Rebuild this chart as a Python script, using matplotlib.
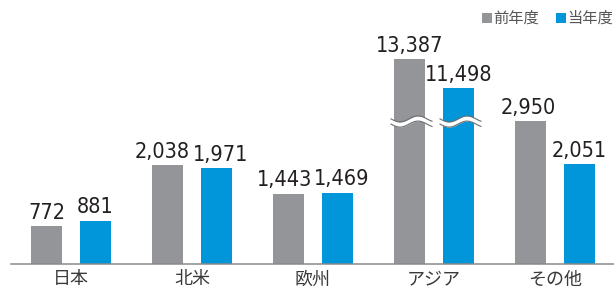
import numpy as np
import matplotlib.pyplot as plt
from matplotlib.patches import Rectangle

plt.rcParams['font.family'] = ['Noto Sans CJK JP', 'DejaVu Sans']

# data
categories = ['日本', '北米', '欧州', 'アジア', 'その他']
prev_year = [772, 2038, 1443, 13387, 2950]
this_year = [881, 1971, 1469, 11498, 2051]
# アジア bars are drawn truncated (broken axis)
asia_drawn = [4228, 3627]
break_level = 2940

gray = '#939598'
blue = '#0096d9'
W, H = 614, 286

# small sideways nudges (px) for crowded value labels
nudge_prev = [0, -5, -4, 0, -2]
nudge_this = [0, 4.5, 4.5, 0, 0]

fig = plt.figure(figsize=(W / 100, H / 100), dpi=100)
base_px = 263.5
ax = fig.add_axes([11 / W, (H - base_px) / H, 1 - 11 / W, base_px / H])

x = np.arange(len(categories))
bw = 31 / 121
off = 24.5 / 121

h_prev = list(prev_year)
h_this = list(this_year)
ai = categories.index('アジア')
h_prev[ai], h_this[ai] = asia_drawn

ax.bar(x - off, h_prev, bw, color=gray, zorder=2)
ax.bar(x + off, h_this, bw, color=blue, zorder=2)

ax.set_xlim((11 - 71) / 121, (614 - 71) / 121)
ax.set_ylim(0, base_px / 0.0483)

# value labels
for xs, hs, vals, nd in [(x - off, h_prev, prev_year, nudge_prev),
                         (x + off, h_this, this_year, nudge_this)]:
    for xi, hi, v, n in zip(xs, hs, vals, nd):
        ax.annotate(f'{v:,}', (xi, hi), xytext=(n, 3.5), textcoords='offset pixels',
                    ha='center', va='bottom', fontsize=15.5, color='#231f20',
                    family='DejaVu Sans', fontstretch='condensed')

# wavy break marks on アジア bars
px_x = 1 / 121
px_y = 1 / 0.0483
for xc in (ai - off, ai + off):
    xx = np.linspace(xc - bw / 2 - 3 * px_x, xc + bw / 2 + 7 * px_x, 80)
    wave = 3 * px_y * np.sin(2 * np.pi * (xx - xx[0]) / (36 * px_x) + np.pi)
    top = break_level + wave + 2.6 * px_y
    bot = break_level + wave - 2.6 * px_y
    ax.fill_between(xx, bot, top, color='white', zorder=3, lw=0)
    ax.plot(xx, top, color='#6d6e71', lw=0.8, zorder=4)
    ax.plot(xx, bot, color='#6d6e71', lw=0.8, zorder=4)

ax.set_xticks(x)
ax.set_xticklabels(categories, fontsize=13, color='#3a3a3a')
ax.tick_params(axis='x', length=0, pad=5)
ax.set_yticks([])
for s in ['top', 'left', 'right']:
    ax.spines[s].set_visible(False)
ax.spines['bottom'].set_color('#8a8a8a')
ax.spines['bottom'].set_linewidth(1.1)
ax.spines['bottom'].set_zorder(5)

# legend
for sx, tx, c, label in [(482, 493, gray, '前年度'), (556, 567, blue, '当年度')]:
    fig.add_artist(Rectangle((sx / W, 1 - 23 / H), 10 / W, 10 / H,
                             transform=fig.transFigure, color=c, lw=0))
    fig.text(tx / W, 1 - 18 / H, label, fontsize=11, color='#555555',
             ha='left', va='center')

fig.savefig('out.png', dpi=100)
